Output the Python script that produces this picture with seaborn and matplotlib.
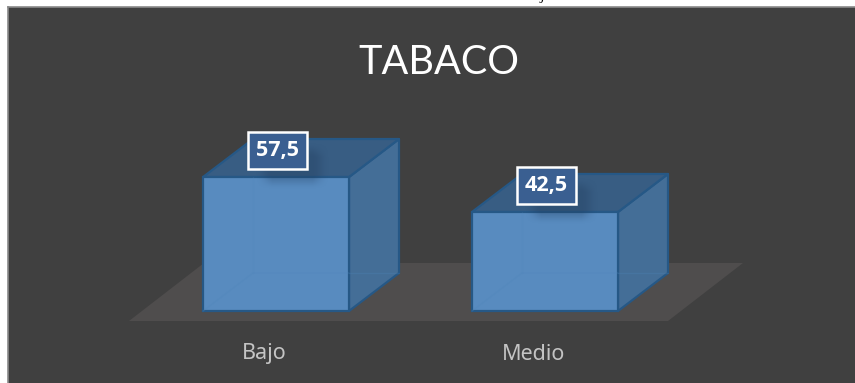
import numpy as np
import pandas as pd
import matplotlib
matplotlib.use("Agg")
import matplotlib.pyplot as plt
import seaborn as sns

# Data
categories = ["Bajo", "Medio"]
values = [57.5, 42.5]
value_labels = ["57,5", "42,5"]
title = "TABACO"

sns.set_theme(style="white")

W, H = 855, 383
CHART_L, CHART_T = 8, 7          # chart area offset inside the white page
X0, X_STEP = 276, 269            # pixel centre of first bar, pixels per category
Y0, Y_SCALE = 311, 2.33          # pixel row of baseline, pixels per unit

BG = "#404040"
FLOOR = "#4f4d4d"
FRONT = "#588bbf"
SIDE = "#446e97"
TOP = "#385d83"
EDGE = "#265886"
BACK_LINE = "#4f86bb"
LABEL_BG = "#3a5f91"
TEXT_GREY = "#c4c4c4"

def px_x(p):
    return (p - X0) / X_STEP

def px_y(p):
    return (Y0 - p) / Y_SCALE

BAR_W = 146 / X_STEP
DX = 50 / X_STEP                 # depth offset of the 3D box
DY = 38 / Y_SCALE

fig = plt.figure(figsize=(W / 100, H / 100), dpi=100, facecolor="white")
ax = fig.add_axes([CHART_L / W, 0, (W - CHART_L) / W, (H - CHART_T) / H], facecolor=BG)

# Floor plane under the boxes
ax.fill([px_x(129), px_x(668), px_x(743), px_x(204)],
        [px_y(321), px_y(321), px_y(263), px_y(263)],
        color=FLOOR, lw=0, zorder=0.5)

df = pd.DataFrame({"nivel": categories, "porcentaje": values})
sns.barplot(data=df, x="nivel", y="porcentaje", ax=ax, width=BAR_W, color=FRONT,
            saturation=1, edgecolor=EDGE, linewidth=1.6, zorder=3)

# Side and top faces of each box
for i, v in enumerate(values):
    l, r = i - BAR_W / 2, i + BAR_W / 2
    ax.fill([r, r + DX, r + DX, r], [0, DY, v + DY, v],
            facecolor=SIDE, edgecolor=EDGE, lw=1.6, joinstyle="round", zorder=2.5)
    ax.fill([l, r, r + DX, l + DX], [v, v, v + DY, v + DY],
            facecolor=TOP, edgecolor=EDGE, lw=1.6, joinstyle="round", zorder=2.5)
    # Hidden back edges showing faintly through the front face
    ax.plot([l, l + DX, r], [0, DY, DY], color=BACK_LINE, lw=1, alpha=0.3, zorder=3.2)
    ax.plot([l + DX, l + DX], [DY, v], color=BACK_LINE, lw=1, alpha=0.15, zorder=3.2)
    ax.plot([r, r + DX], [DY, DY], color=BACK_LINE, lw=1, alpha=0.25, zorder=3.2)

    # Soft shadow cast by the value label
    sx = np.linspace(-1, 1, 80)
    sy = np.linspace(-1, 1, 60)
    gx, gy = np.meshgrid(sx, sy)
    soft = np.clip((1 - np.abs(gx)) * 2.2, 0, 1) * np.clip((1 - np.abs(gy)) * 1.6, 0, 1)
    soft = soft * soft * (3 - 2 * soft)
    rgba = np.zeros(soft.shape + (4,))
    rgba[..., :3] = (0.12, 0.22, 0.35)
    rgba[..., 3] = 0.32 * soft
    ax.imshow(rgba, extent=(i + px_x(255) - px_x(276), i + px_x(330) - px_x(276),
                            v - (190 - 177) / Y_SCALE, v + (177 - 142) / Y_SCALE),
              aspect="auto", interpolation="bilinear", zorder=3.4)

    # Value label
    box_w, box_h = 59 / X_STEP, 37 / Y_SCALE
    ax.add_patch(plt.Rectangle((i + 1.5 / X_STEP - box_w / 2, v + 11.4 - box_h / 2), box_w, box_h,
                               facecolor=LABEL_BG, edgecolor="white", lw=1.8, zorder=4.5))
    ax.text(i + 1 / X_STEP, v + 11.3, value_labels[i], ha="center", va="center",
            color="white", fontsize=15.5, fontweight="bold", family="Open Sans", zorder=5)

ax.set_xlim(px_x(CHART_L), px_x(W))
ax.set_ylim(px_y(H), px_y(CHART_T))
ax.set_xlabel("")
ax.set_ylabel("")
ax.set_yticks([])
ax.set_xticks([])

# Category labels sit below the floor
for i, c in enumerate(categories):
    ax.text(i - 11.5 / X_STEP, px_y(354), c, ha="center", va="center", color=TEXT_GREY,
            fontsize=15.5, family="Noto Sans")

ax.text(px_x(438.5), px_y(62), title, ha="center", va="center", color="white",
        fontsize=28.5, family="Lato", zorder=6)

for name, sp in ax.spines.items():
    sp.set_visible(name in ("left", "top"))
    sp.set_color("#8a8a8a")
    sp.set_linewidth(1.2)

# Tail of a caption line cut off at the page's top edge
fig.text(543 / W, 1.0, "j", ha="center", va="baseline", color="black", fontsize=11,
         family="Liberation Serif", style="italic")

fig.savefig("out.png", dpi=100, facecolor="white")
